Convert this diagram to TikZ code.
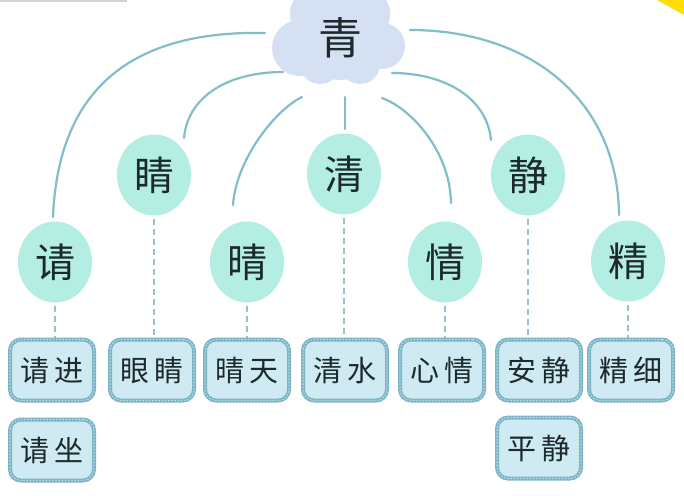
\documentclass[tikz,border=0pt]{standalone}
\usepackage{fontspec}
\newfontfamily\cjk{Noto Sans CJK SC}
\usetikzlibrary{shapes.geometric}
\definecolor{circfill}{HTML}{B4EDE2}
\definecolor{curvecol}{HTML}{80BFC9}
\definecolor{dashcol}{HTML}{9CBFCC}
\definecolor{boxfill}{HTML}{D0EAF3}
\definecolor{boxline}{HTML}{7DB4C5}
\definecolor{boxdot}{HTML}{B8DDE8}
\definecolor{cloudcol}{HTML}{D6E0F3}
\definecolor{txtcol}{HTML}{1C2A2C}
\tikzset{
  circnode/.style={ellipse, fill=circfill, minimum width=74pt, minimum height=81pt, inner sep=0pt,
    font=\cjk\fontsize{40}{40}\selectfont, text=txtcol},
  wordbox/.style={rectangle, rounded corners=11pt, fill=boxfill, draw=boxline, line width=4pt,
    minimum width=84pt, minimum height=61pt, inner sep=0pt,
    font=\cjk\fontsize{29}{29}\selectfont, text=txtcol,
    postaction={draw=boxdot, line width=1.1pt, dash pattern=on 1.6pt off 1.6pt}},
  arc/.style={draw=curvecol, line width=2.2pt, line cap=round},
  dashlink/.style={draw=dashcol, line width=1.6pt, dash pattern=on 6pt off 4pt},
}
\begin{document}
\begin{tikzpicture}[x=1pt,y=-1pt]
\useasboundingbox (0,0) rectangle (684,495);
\fill[white] (0,0) rectangle (684,495);
% corner artefacts
\fill[gray!35] (0,0) rectangle (127,2);
\fill[yellow!80!orange] (657,0) -- (684,0) -- (684,15) -- cycle;
% cloud
\begin{scope}
\clip (0,0) rectangle (684,495);
\fill[cloudcol] (340,40) circle (40) (300,48) circle (28) (318,14) circle (28)
  (362,14) circle (28) (382,46) circle (23) (320,64) circle (20) (360,64) circle (20);
\end{scope}
\node[font=\cjk\fontsize{44}{44}\selectfont, text=txtcol] (qing) at (340,38) {青};
% circles
\node[circnode] (c1) at (55,262) {请};
\node[circnode] (c2) at (154,175) {睛};
\node[circnode] (c3) at (247,262) {晴};
\node[circnode] (c4) at (344,174) {清};
\node[circnode] (c5) at (445,262) {情};
\node[circnode] (c6) at (528,175) {静};
\node[circnode] (c7) at (628,261) {精};
% curve start / end coordinates
\coordinate (s1) at (265,33);  \coordinate (e1) at (53,217);
\coordinate (s2) at (283,72);  \coordinate (e2) at (184,138);
\coordinate (s3) at (302,97);  \coordinate (e3) at (233,205);
\coordinate (s4) at (345,97);  \coordinate (e4) at (345,129);
\coordinate (s5) at (382,98);  \coordinate (e5) at (451,203);
\coordinate (s6) at (392,73);  \coordinate (e6) at (491,140);
\coordinate (s7) at (410,30);  \coordinate (e7) at (619,215);
\draw[arc] (s1) .. controls (125,30) and (58,95) .. (e1);
\draw[arc] (s2) .. controls (230,72) and (188,95) .. (e2);
\draw[arc] (s3) .. controls (275,110) and (236,160) .. (e3);
\draw[arc] (s4) -- (e4);
\draw[arc] (s5) .. controls (410,108) and (450,150) .. (e5);
\draw[arc] (s6) .. controls (445,73) and (487,98) .. (e6);
\draw[arc] (s7) .. controls (530,30) and (618,100) .. (e7);
% word boxes
\node[wordbox] (b1) at (52,370) {请\hspace{5pt}进};
\node[wordbox] (b1b) at (52,450) {请\hspace{5pt}坐};
\node[wordbox] (b2) at (152,370) {眼\hspace{5pt}睛};
\node[wordbox] (b3) at (247,370) {晴\hspace{5pt}天};
\node[wordbox] (b4) at (345,370) {清\hspace{5pt}水};
\node[wordbox] (b5) at (442,370) {心\hspace{5pt}情};
\node[wordbox] (b6) at (539,370) {安\hspace{5pt}静};
\node[wordbox] (b6b) at (539,448) {平\hspace{5pt}静};
\node[wordbox] (b7) at (631,370) {精\hspace{5pt}细};
% dashed links
\draw[dashlink] (c1.south) ++(0,3) -- (c1.south |- b1.north);
\draw[dashlink] (c2.south) ++(0,3) -- (c2.south |- b2.north);
\draw[dashlink] (c3.south) ++(0,3) -- (c3.south |- b3.north);
\draw[dashlink] (c4.south) ++(0,3) -- (c4.south |- b4.north);
\draw[dashlink] (c5.south) ++(0,3) -- (c5.south |- b5.north);
\draw[dashlink] (c6.south) ++(0,3) -- (c6.south |- b6.north);
\draw[dashlink] (c7.south) ++(0,3) -- (c7.south |- b7.north);
\end{tikzpicture}
\end{document}
